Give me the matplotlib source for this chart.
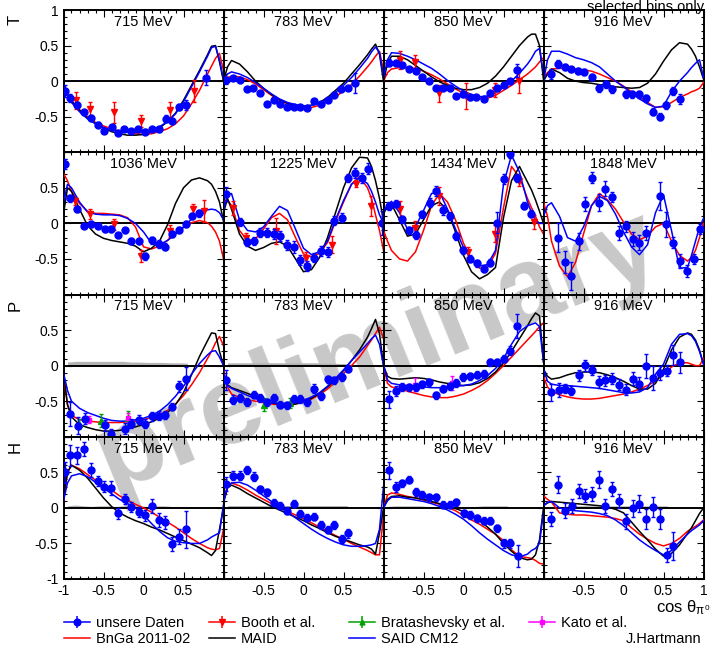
import numpy as np
import matplotlib
matplotlib.use("Agg")
import matplotlib.pyplot as plt
from matplotlib.lines import Line2D
from matplotlib.ticker import FixedLocator, FixedFormatter, MultipleLocator
from matplotlib.legend_handler import HandlerTuple

plt.rcParams['font.family'] = ['Liberation Sans', 'DejaVu Sans']
plt.rcParams['mathtext.fontset'] = 'custom'
plt.rcParams['mathtext.rm'] = 'Liberation Sans'
plt.rcParams['mathtext.it'] = 'Liberation Sans'
plt.rcParams['mathtext.bf'] = 'Liberation Sans:bold'

# ---------------- data ----------------
row_labels = ['T', 'T', 'P', 'H']
energies = [['715 MeV', '783 MeV', '850 MeV', '916 MeV'],
            ['1036 MeV', '1225 MeV', '1434 MeV', '1848 MeV'],
            ['715 MeV', '783 MeV', '850 MeV', '916 MeV'],
            ['715 MeV', '783 MeV', '850 MeV', '916 MeV']]

cos_model = [-1.0, -0.95, -0.9, -0.8, -0.7, -0.6, -0.5, -0.4, -0.3, -0.2, -0.1, 0.0,
             0.1, 0.2, 0.3, 0.4, 0.5, 0.6, 0.7, 0.8, 0.85, 0.9, 0.95, 1.0]
sys_x = [-0.95, -0.85, -0.75, -0.65, -0.55, -0.45, -0.35, -0.25, -0.15, -0.05,
         0.05, 0.15, 0.25, 0.35, 0.45, 0.55]

# ---- T 715
T715_x = [-0.98, -0.917, -0.83, -0.746, -0.66, -0.575, -0.49, -0.40, -0.32, -0.24, -0.154, -0.067, 0.017, 0.10, 0.19, 0.275, 0.36, 0.44, 0.525, 0.78]
T715_y = [-0.14, -0.24, -0.33, -0.44, -0.52, -0.61, -0.70, -0.65, -0.73, -0.67, -0.70, -0.67, -0.71, -0.67, -0.68, -0.53, -0.56, -0.36, -0.33, 0.05]
T715_e = [0.09, 0.06, 0.04, 0.04, 0.04, 0.03, 0.03, 0.03, 0.03, 0.03, 0.03, 0.03, 0.03, 0.03, 0.03, 0.05, 0.04, 0.04, 0.07, 0.10]
T715_booth_x = [-0.85, -0.675, -0.37, -0.03, 0.325, 0.63]
T715_booth_y = [-0.27, -0.39, -0.44, -0.56, -0.41, -0.14]
T715_booth_e = [0.12, 0.10, 0.15, 0.08, 0.12, 0.16]
T715_bnga = [-0.08, -0.18, -0.27, -0.40, -0.50, -0.58, -0.63, -0.67, -0.70, -0.72, -0.74, -0.75, -0.74, -0.71, -0.67, -0.60, -0.49, -0.32, -0.13, 0.10, 0.21, 0.32, 0.39, 0.15]
T715_maid = [-0.08, -0.20, -0.28, -0.41, -0.52, -0.60, -0.66, -0.71, -0.74, -0.76, -0.76, -0.75, -0.71, -0.66, -0.57, -0.45, -0.27, -0.06, 0.15, 0.37, 0.49, 0.50, 0.27, 0.0]
T715_said = [-0.10, -0.20, -0.30, -0.43, -0.53, -0.60, -0.65, -0.69, -0.71, -0.72, -0.72, -0.71, -0.69, -0.64, -0.57, -0.46, -0.29, -0.08, 0.13, 0.35, 0.47, 0.49, 0.30, 0.02]

# ---- T 783
T783_x = [-0.975, -0.883, -0.80, -0.71, -0.633, -0.55, -0.458, -0.375, -0.29, -0.21, -0.125, -0.04, 0.04, 0.133, 0.217, 0.30, 0.383, 0.467, 0.558, 0.64]
T783_y = [0.01, 0.04, 0.01, -0.11, -0.10, -0.17, -0.32, -0.26, -0.32, -0.36, -0.36, -0.36, -0.38, -0.28, -0.32, -0.27, -0.19, -0.11, -0.10, -0.02]
T783_e = [0.05, 0.03, 0.02, 0.02, 0.02, 0.02, 0.02, 0.02, 0.02, 0.02, 0.02, 0.02, 0.02, 0.02, 0.02, 0.02, 0.02, 0.03, 0.03, 0.14]
T783_bnga = [0.0, 0.05, 0.07, 0.06, 0.02, -0.04, -0.12, -0.20, -0.27, -0.32, -0.35, -0.37, -0.37, -0.34, -0.29, -0.22, -0.14, -0.05, 0.07, 0.20, 0.27, 0.35, 0.42, 0.15]
T783_maid = [0.0, 0.20, 0.29, 0.24, 0.13, 0.0, -0.10, -0.19, -0.26, -0.31, -0.34, -0.35, -0.34, -0.30, -0.23, -0.13, -0.03, 0.10, 0.23, 0.37, 0.45, 0.52, 0.38, 0.0]
T783_said = [0.0, 0.10, 0.13, 0.10, 0.05, -0.02, -0.10, -0.18, -0.25, -0.30, -0.33, -0.35, -0.34, -0.31, -0.25, -0.16, -0.06, 0.05, 0.18, 0.32, 0.41, 0.48, 0.40, 0.05]

# ---- T 850
T850_x = [-0.933, -0.85, -0.767, -0.683, -0.60, -0.517, -0.433, -0.342, -0.258, -0.175, -0.092, -0.008, 0.075, 0.158, 0.25, 0.333, 0.417, 0.50, 0.583, 0.667]
T850_y = [0.26, 0.25, 0.225, 0.17, 0.145, 0.06, 0.005, -0.094, -0.09, -0.103, -0.21, -0.188, -0.23, -0.23, -0.254, -0.164, -0.103, -0.056, 0.0, 0.155]
T850_e = [0.05, 0.03, 0.03, 0.03, 0.03, 0.03, 0.03, 0.03, 0.03, 0.03, 0.03, 0.03, 0.03, 0.03, 0.03, 0.03, 0.03, 0.03, 0.03, 0.09]
T850_booth_x = [-0.79, -0.61, -0.31, 0.033, 0.39, 0.69]
T850_booth_y = [0.30, 0.27, -0.17, -0.21, -0.12, 0.0]
T850_booth_e = [0.13, 0.10, 0.12, 0.18, 0.10, 0.17]
T850_bnga = [0.0, 0.12, 0.17, 0.19, 0.19, 0.18, 0.14, 0.09, 0.03, -0.04, -0.11, -0.17, -0.22, -0.245, -0.24, -0.20, -0.13, -0.06, 0.02, 0.10, 0.15, 0.20, 0.27, 0.33]
T850_maid = [0.0, 0.25, 0.35, 0.35, 0.30, 0.22, 0.14, 0.06, -0.01, -0.06, -0.10, -0.12, -0.12, -0.09, -0.03, 0.07, 0.20, 0.35, 0.50, 0.62, 0.66, 0.66, 0.50, 0.02]
T850_said = [0.05, 0.30, 0.40, 0.39, 0.35, 0.30, 0.24, 0.18, 0.10, 0.01, -0.07, -0.14, -0.19, -0.22, -0.21, -0.16, -0.09, 0.0, 0.11, 0.24, 0.32, 0.42, 0.46, 0.10]

# ---- T 916
T916_x = [-0.904, -0.82, -0.737, -0.654, -0.57, -0.49, -0.396, -0.3125, -0.225, -0.14, 0.025, 0.108, 0.19, 0.275, 0.367, 0.45, 0.533, 0.617, 0.708]
T916_y = [0.10, 0.24, 0.20, 0.164, 0.146, 0.13, 0.06, -0.103, -0.047, -0.113, -0.188, -0.188, -0.188, -0.244, -0.43, -0.50, -0.338, -0.14, -0.258]
T916_e = [0.07, 0.05, 0.04, 0.04, 0.04, 0.04, 0.04, 0.05, 0.05, 0.05, 0.05, 0.05, 0.05, 0.05, 0.05, 0.05, 0.05, 0.06, 0.07]
T916_bnga = [0.05, 0.12, 0.17, 0.18, 0.18, 0.17, 0.16, 0.14, 0.10, 0.05, 0.0, -0.07, -0.15, -0.22, -0.30, -0.37, -0.36, -0.30, -0.23, -0.18, -0.15, -0.13, -0.10, -0.02]
T916_maid = [0.0, 0.10, 0.17, 0.12, 0.04, 0.0, -0.02, -0.03, -0.05, -0.06, -0.08, -0.09, -0.10, -0.09, -0.03, 0.10, 0.28, 0.44, 0.54, 0.52, 0.45, 0.35, 0.20, 0.03]
T916_said = [0.0, 0.30, 0.42, 0.42, 0.38, 0.33, 0.30, 0.26, 0.20, 0.10, 0.0, -0.08, -0.17, -0.25, -0.32, -0.37, -0.35, -0.15, 0.0, 0.12, 0.19, 0.25, 0.30, 0.05]

# ---- T 1036
T1036_x = [-0.98, -0.917, -0.833, -0.746, -0.66, -0.575, -0.4875, -0.404, -0.32, -0.2375, -0.154, -0.0625, 0.017, 0.104, 0.1875, 0.27, 0.358, 0.44, 0.525, 0.608, 0.69]
T1036_y = [0.83, 0.35, 0.20, -0.03, -0.014, -0.03, -0.085, -0.075, -0.17, -0.10, -0.25, -0.25, -0.46, -0.235, -0.29, -0.33, -0.146, -0.094, -0.005, 0.103, 0.14]
T1036_e = [0.07, 0.05, 0.04, 0.03, 0.03, 0.03, 0.03, 0.04, 0.04, 0.04, 0.04, 0.04, 0.05, 0.05, 0.05, 0.05, 0.04, 0.04, 0.04, 0.04, 0.05]
T1036_booth_x = [-0.86, -0.675, -0.375, -0.03, 0.325, 0.617, 0.75]
T1036_booth_y = [0.31, 0.136, -0.014, -0.46, -0.108, 0.197, 0.174]
T1036_booth_e = [0.05, 0.07, 0.08, 0.08, 0.08, 0.07, 0.15]
T1036_bnga = [0.70, 0.60, 0.45, 0.28, 0.17, 0.14, 0.14, 0.13, 0.12, 0.08, -0.05, -0.33, -0.36, -0.32, -0.24, -0.14, -0.06, 0.01, 0.04, 0.01, -0.04, -0.12, -0.25, -0.50]
T1036_maid = [0.13, 0.50, 0.45, 0.20, -0.03, -0.15, -0.21, -0.24, -0.26, -0.28, -0.32, -0.40, -0.35, -0.25, -0.02, 0.28, 0.50, 0.61, 0.64, 0.60, 0.55, 0.45, 0.30, 0.03]
T1036_said = [0.30, 0.55, 0.50, 0.30, 0.16, 0.13, 0.12, 0.12, 0.11, 0.07, 0.0, -0.12, -0.28, -0.30, -0.24, -0.15, -0.05, 0.06, 0.14, 0.19, 0.20, 0.19, 0.15, 0.05]

# ---- T 1225
T1225_x = [-0.967, -0.80, -0.708, -0.625, -0.54, -0.458, -0.375, -0.29, -0.208, -0.125, -0.04, 0.04, 0.133, 0.217, 0.30, 0.383, 0.475, 0.558, 0.64, 0.725, 0.808, 0.975]
T1225_y = [0.41, 0.02, -0.26, -0.25, -0.13, -0.13, -0.155, -0.18, -0.30, -0.33, -0.51, -0.60, -0.48, -0.39, -0.40, 0.04, 0.08, 0.64, 0.71, 0.64, 0.77, 0.0]
T1225_e = [0.10, 0.05, 0.06, 0.06, 0.06, 0.06, 0.07, 0.07, 0.07, 0.08, 0.07, 0.07, 0.07, 0.07, 0.07, 0.06, 0.06, 0.06, 0.07, 0.07, 0.08, 0.17]
T1225_booth_x = [-0.883, -0.717, -0.34, 0.025, 0.358, 0.658, 0.84]
T1225_booth_y = [0.22, -0.20, -0.11, -0.48, -0.30, 0.56, 0.25]
T1225_booth_e = [0.10, 0.06, 0.18, 0.08, 0.12, 0.05, 0.14]
T1225_bnga = [0.30, 0.33, 0.25, -0.10, -0.24, -0.22, -0.08, 0.08, 0.14, 0.05, -0.20, -0.43, -0.47, -0.42, -0.27, 0.03, 0.30, 0.55, 0.66, 0.50, 0.35, 0.12, -0.10, -0.38]
T1225_maid = [0.15, 0.35, 0.20, -0.15, -0.32, -0.38, -0.34, -0.28, -0.26, -0.32, -0.50, -0.68, -0.65, -0.48, -0.20, 0.15, 0.50, 0.78, 0.93, 0.92, 0.80, 0.60, 0.35, 0.03]
T1225_said = [0.20, 0.40, 0.42, 0.05, -0.10, -0.12, -0.05, 0.10, 0.24, 0.18, -0.08, -0.35, -0.44, -0.40, -0.25, 0.05, 0.32, 0.55, 0.64, 0.56, 0.45, 0.30, 0.12, 0.0]

# ---- T 1434
T1434_x = [-0.933, -0.85, -0.767, -0.683, -0.60, -0.517, -0.425, -0.342, -0.258, -0.175, -0.092, -0.008, 0.075, 0.167, 0.25, 0.333, 0.417, 0.50, 0.583, 0.667, 0.75, 0.846]
T1434_y = [0.244, 0.277, 0.056, -0.10, -0.164, 0.127, 0.29, 0.455, 0.183, 0.103, -0.178, -0.38, -0.50, -0.563, -0.64, -0.554, 0.01, 0.63, 0.98, 0.64, 0.25, 0.136]
T1434_e = [0.05, 0.05, 0.05, 0.05, 0.05, 0.05, 0.06, 0.07, 0.07, 0.06, 0.05, 0.05, 0.05, 0.05, 0.05, 0.05, 0.15, 0.07, 0.06, 0.06, 0.05, 0.05]
T1434_booth_x = [-0.79, -0.6125, -0.31, 0.054, 0.39, 0.69, 0.875]
T1434_booth_y = [0.197, -0.06, 0.385, -0.40, -0.146, 0.60, 0.023]
T1434_booth_e = [0.12, 0.09, 0.12, 0.07, 0.12, 0.07, 0.10]
T1434_bnga = [-0.10, -0.25, -0.38, -0.50, -0.53, -0.40, -0.10, 0.25, 0.42, 0.30, 0.05, -0.28, -0.50, -0.63, -0.62, -0.42, 0.22, 0.80, 0.65, 0.35, 0.22, 0.10, -0.05, -0.15]
T1434_maid = [0.13, 0.25, 0.27, 0.05, -0.18, -0.15, 0.05, 0.25, 0.30, 0.18, -0.12, -0.45, -0.68, -0.78, -0.72, -0.62, 0.08, 0.60, 0.80, 0.58, 0.47, 0.33, 0.17, 0.0]
T1434_said = [0.17, 0.25, 0.31, 0.15, -0.08, -0.05, 0.18, 0.42, 0.44, 0.20, -0.08, -0.34, -0.52, -0.60, -0.58, -0.38, 0.55, 0.96, 0.72, 0.30, 0.15, 0.05, 0.0, 0.0]

# ---- T 1848
T1848_x = [-0.82, -0.7375, -0.654, -0.5625, -0.479, -0.396, -0.3125, -0.229, -0.146, -0.054, 0.029, 0.1125, 0.196, 0.279, 0.458, 0.533, 0.617, 0.708, 0.79, 0.875, 0.958]
T1848_y = [-0.20, -0.545, -0.74, -0.25, 0.277, 0.643, 0.29, 0.49, 0.375, -0.13, -0.04, -0.216, -0.27, -0.13, 0.385, -0.014, -0.27, -0.53, -0.67, -0.50, -0.085]
T1848_e = [0.20, 0.15, 0.20, 0.12, 0.10, 0.08, 0.12, 0.10, 0.07, 0.10, 0.08, 0.10, 0.10, 0.10, 0.20, 0.18, 0.08, 0.10, 0.08, 0.07, 0.07]
T1848_bnga = [0.30, 0.10, -0.25, -0.60, -0.75, -0.55, -0.15, 0.25, 0.42, 0.33, 0.20, 0.02, -0.15, -0.23, -0.18, -0.05, 0.0, -0.25, -0.45, -0.53, -0.48, -0.38, -0.20, 0.0]
T1848_said = [0.10, 0.25, 0.29, 0.10, -0.20, -0.25, -0.05, 0.25, 0.38, 0.32, 0.13, -0.12, -0.33, -0.44, -0.30, 0.15, 0.40, -0.10, -0.63, -0.62, -0.45, -0.25, -0.05, 0.07]

# ---- P 715
P715_x = [-0.917, -0.82, -0.7375, -0.4875, -0.404, -0.2375, -0.154, -0.0625, 0.02, 0.104, 0.1875, 0.27, 0.358, 0.44, 0.525]
P715_y = [-0.68, -0.845, -0.746, -0.84, -0.958, -0.887, -0.817, -0.76, -0.817, -0.714, -0.704, -0.695, -0.58, -0.29, -0.183]
P715_e = [0.17, 0.12, 0.08, 0.08, 0.06, 0.08, 0.06, 0.06, 0.06, 0.06, 0.06, 0.06, 0.05, 0.08, 0.16]
P715_brat_x = [-0.81, -0.53, -0.20]
P715_brat_y = [-0.82, -0.775, -0.74]
P715_brat_e = [0.07, 0.09, 0.10]
P715_kato_x = [-0.68, -0.20]
P715_kato_y = [-0.76, -0.73]
P715_kato_e = [0.05, 0.06]
P715_bnga = [-0.15, -0.55, -0.70, -0.76, -0.78, -0.79, -0.80, -0.80, -0.80, -0.79, -0.78, -0.76, -0.73, -0.69, -0.63, -0.54, -0.42, -0.27, -0.10, 0.10, 0.20, 0.32, 0.41, 0.28]
P715_maid = [-0.10, -0.55, -0.72, -0.83, -0.87, -0.90, -0.92, -0.92, -0.91, -0.89, -0.86, -0.83, -0.79, -0.74, -0.66, -0.55, -0.38, -0.13, 0.13, 0.35, 0.46, 0.45, 0.20, 0.0]
P715_said = [-0.10, -0.35, -0.50, -0.60, -0.66, -0.70, -0.74, -0.77, -0.78, -0.78, -0.76, -0.74, -0.70, -0.64, -0.55, -0.43, -0.29, -0.12, 0.03, 0.15, 0.20, 0.21, 0.12, 0.0]
P715_sys = [0.05, 0.06, 0.06, 0.06, 0.06, 0.06, 0.06, 0.06, 0.05, 0.05, 0.045, 0.045, 0.045, 0.04, 0.04, 0.035]

# ---- P 783
P783_x = [-0.967, -0.883, -0.80, -0.708, -0.625, -0.54, -0.458, -0.375, -0.29, -0.208, -0.125, -0.04, 0.04, 0.133, 0.217, 0.30, 0.383, 0.475, 0.558]
P783_y = [-0.207, -0.479, -0.455, -0.51, -0.41, -0.455, -0.516, -0.455, -0.55, -0.56, -0.465, -0.47, -0.516, -0.324, -0.43, -0.19, -0.207, -0.16, -0.042]
P783_e = [0.14, 0.06, 0.06, 0.06, 0.05, 0.05, 0.05, 0.05, 0.05, 0.05, 0.05, 0.05, 0.05, 0.06, 0.05, 0.05, 0.05, 0.05, 0.05]
P783_brat_x = [-0.50, -0.175]
P783_brat_y = [-0.55, -0.526]
P783_brat_e = [0.09, 0.07]
P783_bnga = [-0.06, -0.30, -0.40, -0.45, -0.48, -0.50, -0.52, -0.54, -0.55, -0.55, -0.54, -0.51, -0.47, -0.41, -0.33, -0.23, -0.11, 0.0, 0.12, 0.28, 0.36, 0.45, 0.54, 0.38]
P783_maid = [-0.10, -0.27, -0.31, -0.35, -0.39, -0.44, -0.49, -0.52, -0.55, -0.55, -0.54, -0.51, -0.46, -0.39, -0.30, -0.20, -0.07, 0.07, 0.22, 0.40, 0.52, 0.65, 0.45, 0.0]
P783_said = [-0.10, -0.28, -0.32, -0.37, -0.42, -0.46, -0.50, -0.52, -0.53, -0.53, -0.52, -0.49, -0.44, -0.38, -0.29, -0.18, -0.06, 0.07, 0.19, 0.31, 0.38, 0.43, 0.30, 0.0]
P783_sys = [0.04, 0.04, 0.04, 0.04, 0.04, 0.04, 0.04, 0.04, 0.04, 0.04, 0.04, 0.04, 0.035, 0.035, 0.03, 0.03]

# ---- P 850
P850_x = [-0.933, -0.85, -0.767, -0.683, -0.60, -0.517, -0.433, -0.342, -0.258, -0.175, -0.092, -0.008, 0.075, 0.167, 0.25, 0.333, 0.417, 0.50, 0.583, 0.667]
P850_y = [-0.47, -0.36, -0.30, -0.305, -0.30, -0.26, -0.235, -0.42, -0.324, -0.29, -0.244, -0.16, -0.15, -0.127, -0.117, 0.047, 0.047, 0.094, 0.21, 0.56]
P850_e = [0.12, 0.07, 0.05, 0.05, 0.05, 0.05, 0.05, 0.05, 0.05, 0.05, 0.05, 0.05, 0.05, 0.05, 0.05, 0.05, 0.05, 0.05, 0.06, 0.17]
P850_kato_x = [-0.61, -0.14]
P850_kato_y = [-0.27, -0.244]
P850_kato_e = [0.09, 0.10]
P850_bnga = [0.0, -0.25, -0.30, -0.33, -0.36, -0.39, -0.42, -0.44, -0.45, -0.45, -0.43, -0.40, -0.35, -0.29, -0.21, -0.11, 0.0, 0.12, 0.24, 0.36, 0.42, 0.48, 0.55, 0.60]
P850_maid = [0.0, -0.15, -0.18, -0.19, -0.18, -0.17, -0.18, -0.20, -0.23, -0.25, -0.27, -0.28, -0.27, -0.24, -0.18, -0.09, 0.04, 0.20, 0.38, 0.56, 0.66, 0.74, 0.70, 0.05]
P850_said = [0.0, -0.20, -0.25, -0.27, -0.28, -0.29, -0.30, -0.31, -0.31, -0.30, -0.29, -0.28, -0.26, -0.21, -0.14, -0.04, 0.10, 0.30, 0.48, 0.56, 0.58, 0.60, 0.55, 0.05]

# ---- P 916
P916_x = [-0.904, -0.8125, -0.73, -0.654, -0.5625, -0.479, -0.396, -0.3125, -0.229, -0.146, -0.054, 0.029, 0.1125, 0.196, 0.279, 0.371, 0.454, 0.5375, 0.62, 0.708]
P916_y = [-0.376, -0.347, -0.324, -0.352, -0.136, 0.005, -0.066, -0.23, -0.207, -0.183, -0.268, -0.338, -0.183, -0.254, 0.0, -0.174, -0.103, -0.07, 0.155, 0.047]
P916_e = [0.12, 0.10, 0.06, 0.06, 0.08, 0.08, 0.07, 0.08, 0.08, 0.08, 0.08, 0.08, 0.09, 0.09, 0.17, 0.17, 0.10, 0.08, 0.14, 0.15]
P916_bnga = [-0.15, -0.30, -0.36, -0.41, -0.44, -0.46, -0.47, -0.47, -0.46, -0.44, -0.42, -0.40, -0.37, -0.33, -0.28, -0.22, -0.12, -0.02, 0.04, 0.04, 0.02, 0.0, 0.0, 0.10]
P916_maid = [-0.05, -0.15, -0.19, -0.17, -0.13, -0.10, -0.09, -0.09, -0.10, -0.13, -0.17, -0.22, -0.28, -0.33, -0.33, -0.25, -0.05, 0.22, 0.40, 0.46, 0.44, 0.36, 0.22, 0.02]
P916_said = [-0.05, -0.22, -0.26, -0.28, -0.28, -0.29, -0.30, -0.31, -0.32, -0.34, -0.36, -0.38, -0.385, -0.37, -0.31, -0.12, 0.02, 0.30, 0.44, 0.45, 0.42, 0.34, 0.20, 0.02]

# ---- H 715
H715_x = [-0.98, -0.917, -0.83, -0.746, -0.66, -0.575, -0.49, -0.404, -0.32, -0.2375, -0.154, -0.0625, 0.02, 0.104, 0.1875, 0.27, 0.358, 0.44, 0.525]
H715_y = [0.50, 0.74, 0.74, 0.83, 0.535, 0.38, 0.30, 0.277, -0.075, 0.127, 0.019, -0.06, -0.103, 0.028, -0.17, -0.20, -0.507, -0.404, -0.30]
H715_e = [0.15, 0.15, 0.12, 0.10, 0.10, 0.07, 0.08, 0.10, 0.08, 0.07, 0.07, 0.07, 0.08, 0.10, 0.10, 0.09, 0.10, 0.10, 0.26]
H715_bnga = [0.10, 0.50, 0.60, 0.55, 0.47, 0.39, 0.32, 0.25, 0.17, 0.11, 0.05, 0.0, -0.06, -0.13, -0.20, -0.27, -0.35, -0.43, -0.50, -0.56, -0.58, -0.59, -0.57, -0.30]
H715_maid = [0.15, 0.50, 0.60, 0.53, 0.42, 0.28, 0.14, 0.02, -0.07, -0.13, -0.18, -0.22, -0.27, -0.31, -0.36, -0.41, -0.46, -0.51, -0.56, -0.63, -0.67, -0.60, -0.30, 0.0]
H715_said = [0.10, 0.35, 0.45, 0.48, 0.44, 0.36, 0.28, 0.20, 0.12, 0.06, 0.0, -0.10, -0.22, -0.33, -0.42, -0.47, -0.49, -0.50, -0.50, -0.45, -0.41, -0.38, -0.35, 0.05]
H715_sys = [0.03, 0.04, 0.03, 0.02, 0.03, 0.03, 0.02, 0.03, 0.04, 0.03, 0.02, 0.03, 0.03, 0.02, 0.02, 0.02]

# ---- H 783
H783_x = [-0.967, -0.883, -0.80, -0.708, -0.625, -0.54, -0.458, -0.375, -0.29, -0.208, -0.125, -0.04, 0.04, 0.133, 0.217, 0.30, 0.383, 0.475, 0.558]
H783_y = [0.338, 0.455, 0.455, 0.535, 0.44, 0.263, 0.22, 0.075, 0.028, -0.042, 0.056, -0.085, -0.136, -0.122, -0.24, -0.31, -0.24, -0.44, -0.357]
H783_e = [0.10, 0.06, 0.06, 0.06, 0.06, 0.05, 0.05, 0.05, 0.05, 0.05, 0.05, 0.05, 0.05, 0.05, 0.05, 0.05, 0.05, 0.06, 0.06]
H783_bnga = [0.09, 0.30, 0.35, 0.31, 0.25, 0.18, 0.12, 0.06, 0.0, -0.05, -0.10, -0.15, -0.21, -0.27, -0.33, -0.39, -0.44, -0.50, -0.55, -0.60, -0.63, -0.66, -0.66, -0.10]
H783_maid = [0.07, 0.28, 0.32, 0.27, 0.20, 0.14, 0.08, 0.02, -0.03, -0.08, -0.13, -0.18, -0.24, -0.29, -0.35, -0.40, -0.44, -0.48, -0.52, -0.55, -0.58, -0.65, -0.35, 0.0]
H783_said = [0.09, 0.30, 0.35, 0.36, 0.32, 0.25, 0.17, 0.09, 0.02, -0.06, -0.14, -0.22, -0.30, -0.37, -0.43, -0.48, -0.52, -0.54, -0.54, -0.53, -0.52, -0.50, -0.30, 0.30]
H783_sys = [0.03, 0.03, 0.03, 0.03, 0.03, 0.03, 0.03, 0.03, 0.03, 0.03, 0.03, 0.03, 0.03, 0.03, 0.03, 0.03]

# ---- H 850
H850_x = [-0.933, -0.85, -0.767, -0.683, -0.60, -0.517, -0.433, -0.342, -0.258, -0.175, -0.092, 0.0, 0.083, 0.167, 0.25, 0.333, 0.417, 0.50, 0.583, 0.675]
H850_y = [0.526, 0.30, 0.347, 0.394, 0.22, 0.183, 0.15, 0.15, 0.042, 0.042, 0.08, -0.075, -0.10, -0.146, -0.178, -0.178, -0.286, -0.50, -0.50, -0.676]
H850_e = [0.12, 0.07, 0.05, 0.05, 0.06, 0.05, 0.05, 0.05, 0.05, 0.05, 0.05, 0.05, 0.05, 0.05, 0.05, 0.05, 0.05, 0.06, 0.06, 0.15]
H850_bnga = [0.0, 0.18, 0.21, 0.19, 0.16, 0.14, 0.11, 0.08, 0.05, 0.01, -0.04, -0.11, -0.17, -0.23, -0.30, -0.37, -0.46, -0.59, -0.68, -0.70, -0.71, -0.74, -0.78, -0.79]
H850_maid = [0.0, 0.12, 0.16, 0.17, 0.15, 0.14, 0.12, 0.09, 0.06, 0.02, -0.01, -0.05, -0.11, -0.18, -0.27, -0.37, -0.50, -0.61, -0.70, -0.73, -0.72, -0.66, -0.45, 0.0]
H850_said = [0.0, 0.10, 0.15, 0.15, 0.13, 0.11, 0.09, 0.06, 0.02, -0.03, -0.09, -0.16, -0.25, -0.35, -0.44, -0.52, -0.60, -0.66, -0.69, -0.65, -0.60, -0.57, -0.50, -0.05]
H850_sys = [0.02, 0.03, 0.03, 0.03, 0.03, 0.02, 0.02, 0.02, 0.02, 0.02, 0.02, 0.02, 0.03, 0.03, 0.03, 0.03]

# ---- H 916
H916_x = [-0.904, -0.82, -0.7375, -0.646, -0.5625, -0.479, -0.396, -0.3125, -0.229, -0.146, -0.054, 0.029, 0.1125, 0.196, 0.279, 0.367, 0.454, 0.5375, 0.62]
H916_y = [-0.16, 0.324, -0.038, 0.028, 0.24, 0.169, 0.19, 0.394, 0.028, 0.268, 0.10, -0.19, -0.005, 0.056, -0.155, 0.01, -0.16, -0.66, -0.535]
H916_e = [0.10, 0.12, 0.10, 0.10, 0.10, 0.09, 0.10, 0.12, 0.10, 0.10, 0.10, 0.10, 0.12, 0.12, 0.14, 0.14, 0.14, 0.10, 0.20]
H916_bnga = [0.17, 0.12, 0.08, -0.07, -0.09, -0.10, -0.10, -0.11, -0.12, -0.13, -0.15, -0.18, -0.28, -0.37, -0.44, -0.50, -0.535, -0.50, -0.43, -0.33, -0.29, -0.26, -0.22, -0.17]
H916_maid = [0.03, 0.07, 0.09, 0.08, 0.07, 0.06, 0.05, 0.04, 0.03, 0.01, -0.02, -0.07, -0.20, -0.33, -0.45, -0.58, -0.68, -0.64, -0.52, -0.36, -0.28, -0.18, -0.08, 0.0]
H916_said = [0.03, 0.08, 0.09, 0.0, -0.03, -0.04, -0.05, -0.06, -0.08, -0.11, -0.17, -0.25, -0.35, -0.45, -0.53, -0.60, -0.66, -0.60, -0.48, -0.37, -0.32, -0.28, -0.24, -0.18]
H916_sys = [0.02, 0.02, 0.02, 0.03, 0.03, 0.03, 0.03, 0.03, 0.03, 0.03, 0.03, 0.03, 0.03, 0.03, 0.03, 0.03]

# ---------------- panel table ----------------
def P(x, y, e, bnga, maid, said, booth=None, brat=None, kato=None, sys=None):
    return dict(x=x, y=y, e=e, bnga=bnga, maid=maid, said=said,
                booth=booth, brat=brat, kato=kato, sys=sys)

panels = [
    [P(T715_x, T715_y, T715_e, T715_bnga, T715_maid, T715_said,
       booth=(T715_booth_x, T715_booth_y, T715_booth_e)),
     P(T783_x, T783_y, T783_e, T783_bnga, T783_maid, T783_said),
     P(T850_x, T850_y, T850_e, T850_bnga, T850_maid, T850_said,
       booth=(T850_booth_x, T850_booth_y, T850_booth_e)),
     P(T916_x, T916_y, T916_e, T916_bnga, T916_maid, T916_said)],
    [P(T1036_x, T1036_y, T1036_e, T1036_bnga, T1036_maid, T1036_said,
       booth=(T1036_booth_x, T1036_booth_y, T1036_booth_e)),
     P(T1225_x, T1225_y, T1225_e, T1225_bnga, T1225_maid, T1225_said,
       booth=(T1225_booth_x, T1225_booth_y, T1225_booth_e)),
     P(T1434_x, T1434_y, T1434_e, T1434_bnga, T1434_maid, T1434_said,
       booth=(T1434_booth_x, T1434_booth_y, T1434_booth_e)),
     P(T1848_x, T1848_y, T1848_e, T1848_bnga, None, T1848_said)],
    [P(P715_x, P715_y, P715_e, P715_bnga, P715_maid, P715_said,
       brat=(P715_brat_x, P715_brat_y, P715_brat_e),
       kato=(P715_kato_x, P715_kato_y, P715_kato_e), sys=P715_sys),
     P(P783_x, P783_y, P783_e, P783_bnga, P783_maid, P783_said,
       brat=(P783_brat_x, P783_brat_y, P783_brat_e), sys=P783_sys),
     P(P850_x, P850_y, P850_e, P850_bnga, P850_maid, P850_said,
       kato=(P850_kato_x, P850_kato_y, P850_kato_e)),
     P(P916_x, P916_y, P916_e, P916_bnga, P916_maid, P916_said)],
    [P(H715_x, H715_y, H715_e, H715_bnga, H715_maid, H715_said, sys=H715_sys),
     P(H783_x, H783_y, H783_e, H783_bnga, H783_maid, H783_said, sys=H783_sys),
     P(H850_x, H850_y, H850_e, H850_bnga, H850_maid, H850_said, sys=H850_sys),
     P(H916_x, H916_y, H916_e, H916_bnga, H916_maid, H916_said, sys=H916_sys)],
]

# ---------------- styling ----------------
C_DATA = '#0000ff'
C_BOOTH = '#ff0000'
C_BRAT = '#00a000'
C_KATO = '#ff00ff'
C_BNGA = '#ff0000'
C_MAID = '#000000'
C_SAID = '#0000ff'

W, H = 711, 648
fig = plt.figure(figsize=(W / 100, H / 100), dpi=100)
fig.patch.set_facecolor('white')

left_px, top_px, pw, ph = 63.5, 10.0, 160.0, 142.25

xticks = [-1, -0.5, 0, 0.5, 1]
ylabels_by_row = [['', '-0.5', '0', '0.5', '1'],
                  ['', '-0.5', '0', '0.5', ''],
                  ['', '-0.5', '0', '0.5', ''],
                  ['-1', '-0.5', '0', '0.5', '']]
xlabels_by_col = [['-1', '-0.5', '0', '0.5', ''],
                  ['', '-0.5', '0', '0.5', ''],
                  ['', '-0.5', '0', '0.5', ''],
                  ['', '-0.5', '0', '0.5', '1']]

for r in range(4):
    for c in range(4):
        x0 = (left_px + pw * c) / W
        y0 = 1 - (top_px + ph * (r + 1)) / H
        ax = fig.add_axes([x0, y0, pw / W, ph / H])
        ax.set_facecolor('none')
        ax.set_zorder(1)
        ax.set_xlim(-1, 1)
        ax.set_ylim(-1, 1)
        for s in ax.spines.values():
            s.set_linewidth(1.4)
        ax.xaxis.set_major_locator(FixedLocator(xticks))
        ax.yaxis.set_major_locator(FixedLocator(xticks))
        ax.xaxis.set_minor_locator(MultipleLocator(0.1))
        ax.yaxis.set_minor_locator(MultipleLocator(0.1))
        ax.tick_params(which='both', direction='in', top=True, right=True,
                       width=0.8, labelsize=10, pad=3.5)
        ax.tick_params(which='major', length=5)
        ax.tick_params(which='minor', length=2.5)
        if c == 0:
            ax.yaxis.set_major_formatter(FixedFormatter(ylabels_by_row[r]))
        else:
            ax.set_yticklabels([])
        if r == 3:
            ax.xaxis.set_major_formatter(FixedFormatter(xlabels_by_col[c]))
        else:
            ax.set_xticklabels([])

        pd = panels[r][c]
        if pd['sys'] is not None:
            ax.fill_between(sys_x, 0, pd['sys'], color='#b4b4b4', lw=0, zorder=2)
        ax.axhline(0, color='black', lw=1.4, zorder=2.5)

        ax.plot(cos_model, pd['bnga'], color=C_BNGA, lw=1.1, zorder=3)
        if pd['maid'] is not None:
            ax.plot(cos_model, pd['maid'], color=C_MAID, lw=1.1, zorder=3)
        ax.plot(cos_model, pd['said'], color=C_SAID, lw=1.1, zorder=3)

        if pd['booth'] is not None:
            bx, by, be = pd['booth']
            ax.errorbar(bx, by, yerr=be, fmt='v', color=C_BOOTH, ms=4.8,
                        elinewidth=1.0, capsize=1.5, capthick=1.0, zorder=4)
        if pd['brat'] is not None:
            bx, by, be = pd['brat']
            ax.errorbar(bx, by, yerr=be, fmt='^', color=C_BRAT, ms=4,
                        elinewidth=1.0, capsize=1.5, capthick=1.0, zorder=4)
        if pd['kato'] is not None:
            bx, by, be = pd['kato']
            ax.errorbar(bx, by, yerr=be, fmt='s', color=C_KATO, ms=3,
                        elinewidth=1.0, capsize=1.5, capthick=1.0, zorder=4)
        ax.errorbar(pd['x'], pd['y'], yerr=pd['e'], fmt='o', color=C_DATA,
                    ms=5, elinewidth=1.0, capsize=1.5, capthick=1.0, zorder=5)

        ax.text(0.5, 0.965, energies[r][c], transform=ax.transAxes,
                ha='center', va='top', fontsize=10.5, zorder=6)

# row labels
for lab, ypx in [('T', 20), ('P', 305), ('H', 447)]:
    fig.text(15 / W, 1 - ypx / H, lab, rotation=90, ha='center', va='center',
             fontsize=12)

# axis title
fig.text(656 / W, 1 - 608 / H, r'cos $\theta_{\pi^{0}}$', ha='left', va='center',
         fontsize=12)

# watermark
fig.text(378 / W, 1 - 352 / H, 'preliminary', rotation=22, fontsize=80,
         fontweight='bold', color='#c8c8c8', ha='center', va='center',
         zorder=-1)

# corner texts
fig.text(587 / W, 1.0, 'selected bins only', ha='left', va='top',
         fontsize=10.5)
fig.text(626 / W, 1 - 646 / H, 'J.Hartmann', ha='left', va='bottom',
         fontsize=10.5)

# legend
def data_handle(color, marker, ms):
    return (Line2D([], [], color=color, lw=1.1),
            Line2D([], [], color=color, marker='|', ms=9, ls='none', mew=1.1),
            Line2D([], [], color=color, marker=marker, ms=ms, ls='none'))

h_data = data_handle(C_DATA, 'o', 4.8)
h_booth = data_handle(C_BOOTH, 'v', 4)
h_brat = data_handle(C_BRAT, '^', 3.5)
h_kato = data_handle(C_KATO, 's', 2.5)
h_bnga = Line2D([], [], color=C_BNGA, lw=1.1)
h_maid = Line2D([], [], color=C_MAID, lw=1.1)
h_said = Line2D([], [], color=C_SAID, lw=1.1)

legend_cols = [
    (64, [h_data, h_bnga], ['unsere Daten', 'BnGa 2011-02']),
    (209, [h_booth, h_maid], ['Booth et al.', 'MAID']),
    (349, [h_brat, h_said], ['Bratashevsky et al.', 'SAID CM12']),
    (529, [h_kato], ['Kato et al.']),
]
for xpx, hs, labs in legend_cols:
    fig.legend(hs, labs, loc='upper left',
               bbox_to_anchor=(xpx / W, 1 - 616 / H),
               frameon=False, fontsize=10.5, handlelength=1.8,
               handletextpad=0.4, labelspacing=0.15, borderpad=0,
               borderaxespad=0,
               handler_map={tuple: HandlerTuple(ndivide=1)})

fig.savefig('out.png', dpi=100)
